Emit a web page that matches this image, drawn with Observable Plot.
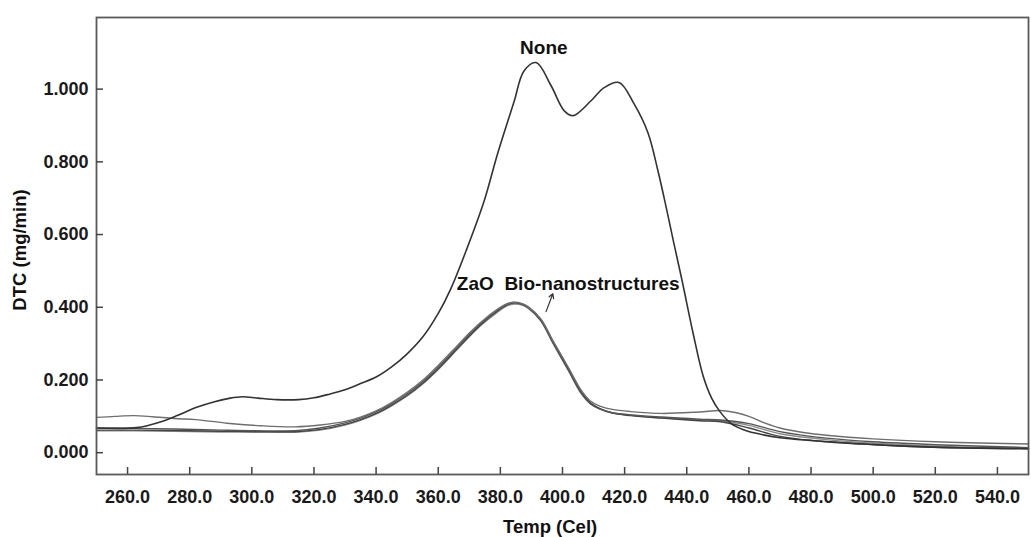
<!DOCTYPE html>
<html>
<head>
<meta charset="utf-8">
<script src="https://cdn.jsdelivr.net/npm/d3@7"></script>
<script src="https://cdn.jsdelivr.net/npm/@observablehq/plot@0.6"></script>
<style>
  html, body { margin: 0; padding: 0; background: #fff; }
  #chart svg { display: block; }
</style>
</head>
<body>
<div id="chart"></div>
<script>
// ---- Data ----
const xTicks = [260, 280, 300, 320, 340, 360, 380, 400, 420, 440, 460, 480, 500, 520, 540];
const yTicks = [0, 0.2, 0.4, 0.6, 0.8, 1.0];

const noneT = [250, 263, 270, 276, 282, 288, 293, 297, 302, 308, 315, 320, 325, 330, 335, 340, 345, 350, 355, 360, 364, 369, 374.7, 379.2, 384.4, 387.6, 391.5, 396.3, 400.5, 403.4, 409.2, 413.4, 418.2, 423, 427.5, 430.7, 433.5, 436, 438.5, 442, 445.3, 448, 450.5, 454.3, 458, 462, 470, 481, 495, 510, 530, 550];
const noneV = [0.068, 0.069, 0.083, 0.102, 0.124, 0.140, 0.150, 0.154, 0.150, 0.146, 0.146, 0.151, 0.161, 0.173, 0.190, 0.208, 0.236, 0.272, 0.318, 0.383, 0.450, 0.556, 0.690, 0.825, 0.965, 1.050, 1.073, 1.010, 0.941, 0.927, 0.968, 1.004, 1.018, 0.960, 0.880, 0.776, 0.670, 0.570, 0.473, 0.330, 0.210, 0.150, 0.115, 0.080, 0.064, 0.054, 0.041, 0.033, 0.025, 0.018, 0.013, 0.011];

const zao1T = [250, 256, 262, 268, 275, 282, 292, 303, 314, 322, 330, 335, 340, 345, 350, 355, 360, 366, 370, 374, 379, 382, 384.5, 387, 389, 393, 397, 402, 406, 409, 412, 416, 422, 432, 444, 451, 456, 460, 465, 470, 478, 485, 500, 520, 550];
const zao1V = [0.097, 0.100, 0.102, 0.099, 0.094, 0.091, 0.081, 0.074, 0.071, 0.076, 0.086, 0.098, 0.115, 0.138, 0.166, 0.199, 0.240, 0.293, 0.329, 0.361, 0.394, 0.409, 0.414, 0.410, 0.401, 0.368, 0.307, 0.233, 0.172, 0.142, 0.128, 0.119, 0.113, 0.108, 0.112, 0.116, 0.110, 0.100, 0.082, 0.068, 0.055, 0.048, 0.038, 0.030, 0.024];

const zaoT = [250, 262, 275, 290, 305, 315, 322, 330, 335, 340, 345, 350, 355, 360, 366, 370, 374, 379, 382, 384.5, 387, 389, 393, 397, 402, 406, 409, 412, 416, 422, 432, 444, 451, 460, 470, 485, 500, 520, 550];
const zao2V = [0.068, 0.067, 0.065, 0.062, 0.060, 0.061, 0.068, 0.082, 0.095, 0.112, 0.135, 0.162, 0.195, 0.235, 0.289, 0.325, 0.358, 0.392, 0.408, 0.413, 0.408, 0.398, 0.363, 0.300, 0.224, 0.163, 0.134, 0.120, 0.110, 0.104, 0.098, 0.092, 0.090, 0.080, 0.058, 0.040, 0.030, 0.022, 0.014];
const zao3V = [0.062, 0.062, 0.061, 0.059, 0.058, 0.058, 0.064, 0.078, 0.091, 0.108, 0.131, 0.158, 0.191, 0.231, 0.285, 0.321, 0.355, 0.389, 0.406, 0.412, 0.409, 0.400, 0.367, 0.305, 0.230, 0.168, 0.137, 0.121, 0.109, 0.102, 0.095, 0.088, 0.085, 0.068, 0.045, 0.030, 0.022, 0.015, 0.011];
const zao4V = [0.060, 0.060, 0.059, 0.057, 0.056, 0.057, 0.062, 0.076, 0.089, 0.106, 0.129, 0.156, 0.189, 0.229, 0.283, 0.319, 0.352, 0.386, 0.403, 0.409, 0.406, 0.397, 0.364, 0.302, 0.227, 0.166, 0.136, 0.121, 0.110, 0.103, 0.096, 0.090, 0.088, 0.075, 0.052, 0.036, 0.026, 0.018, 0.012];

const seriesNames = ["None", "ZaO 1", "ZaO 2", "ZaO 3", "ZaO 4"];
const seriesColors = ["#333333", "#6e6e6e", "#555555", "#444444", "#8a8a8a"];

const noneLabel = {text: "None", x: 394, y: 1.114};
const zaoLabel = {text: "ZaO  Bio-nanostructures", x: 366, y: 0.465};

const arrowData = [{x1: 394.7, y1: 0.388, x2: 396.9, y2: 0.437}];

// ---- Build tables ----
const seriesSources = [[noneT, noneV], [zao1T, zao1V], [zaoT, zao2V], [zaoT, zao3V], [zaoT, zao4V]];
const rows = seriesSources.flatMap(([T, V], i) => T.map((t, j) => ({name: seriesNames[i], t, v: V[j]})));

const W = 1031, H = 537;
const mL = 96, mR = 3, mT = 17, mB = 63;
const innerW = W - mL - mR, innerH = H - mT - mB;

const lineMarks = seriesNames.slice().reverse().map(name => {
  const i = seriesNames.indexOf(name);
  return Plot.line(rows.filter(d => d.name === name), {
    x: "t", y: "v", stroke: seriesColors[i],
    strokeWidth: i === 0 ? 1.6 : 1.4, curve: "catmull-rom"
  });
});

const chart = Plot.plot({
  width: W, height: H,
  marginLeft: mL, marginRight: mR, marginTop: mT, marginBottom: mB,
  style: {fontFamily: "'Liberation Sans', Arial, sans-serif", fontSize: "18px", fontWeight: "bold", color: "#1a1a1a", background: "#fff"},
  x: {domain: [250, 550]},
  y: {domain: [-0.06, 1.197]},
  marks: [
    ...lineMarks,
    Plot.frame({stroke: "#5a5a5a", strokeWidth: 1.8}),
    Plot.tickX(xTicks, {x: d => d, stroke: "#444", strokeWidth: 1.5, insetTop: innerH - 7}),
    Plot.tickY(yTicks, {y: d => d, stroke: "#444", strokeWidth: 1.5, insetRight: innerW - 7}),
    Plot.axisX({ticks: xTicks, tickSize: 0, tickPadding: 16, tickFormat: d3.format(".1f"), label: null}),
    Plot.axisY({ticks: yTicks, tickSize: 0, tickPadding: 8, tickFormat: d3.format(".3f"), label: null}),
    Plot.text([noneLabel], {x: "x", y: "y", text: "text", textAnchor: "middle", fontSize: 19, fontWeight: "bold", fill: "#111"}),
    Plot.text([zaoLabel], {x: "x", y: "y", text: "text", textAnchor: "start", fontSize: 19, fontWeight: "bold", fill: "#111"}),
    Plot.arrow(arrowData, {x1: "x1", y1: "y1", x2: "x2", y2: "y2", stroke: "#333", strokeWidth: 1.2, headLength: 6}),
    Plot.text([396], {x: d => d, text: () => "Temp (Cel)", frameAnchor: "bottom", lineAnchor: "middle", dy: 53, fontSize: 18.5, fontWeight: "bold", fill: "#111"}),
    Plot.text(["DTC (mg/min)"], {text: d => d, frameAnchor: "left", textAnchor: "middle", lineAnchor: "middle", rotate: -90, dx: -76, dy: 4, fontSize: 18.5, fontWeight: "bold", fill: "#111"})
  ]
});

document.getElementById("chart").append(chart);
</script>
</body>
</html>
